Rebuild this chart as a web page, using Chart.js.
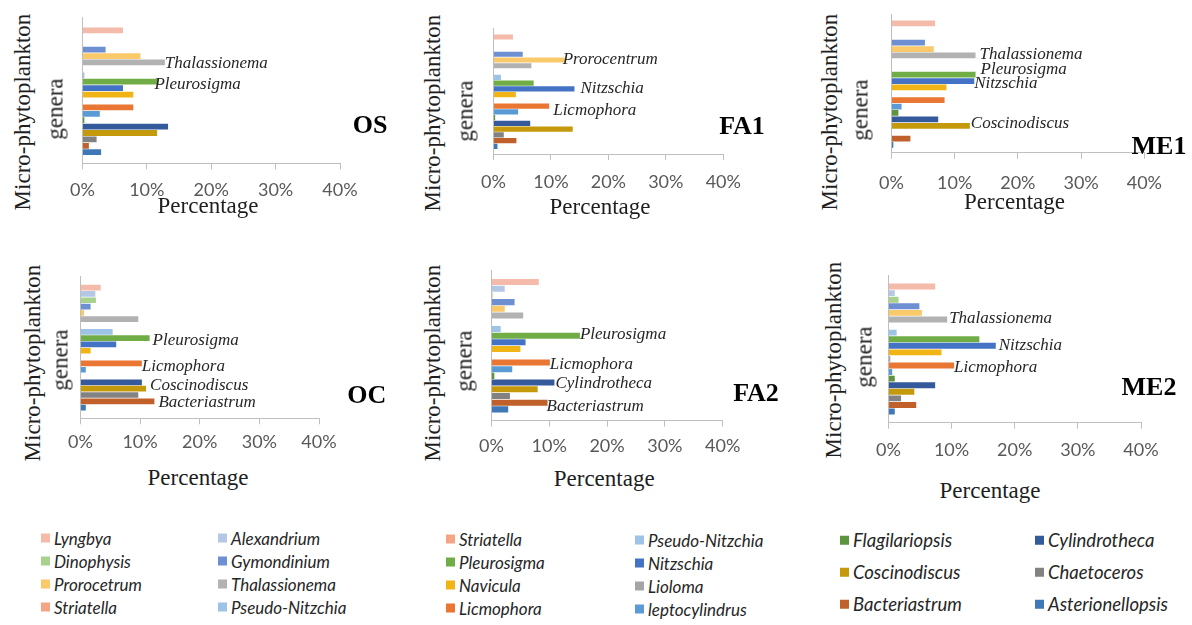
<!DOCTYPE html>
<html>
<head>
<meta charset="utf-8">
<script src="https://cdn.jsdelivr.net/npm/chart.js@4.4.1/dist/chart.umd.min.js"></script>
<style>
  html, body { margin: 0; padding: 0; background: #fff; }
  #stage { position: relative; width: 1192px; height: 625px; overflow: hidden; background: #fff; }
  #stage canvas { position: absolute; }
  .abs { position: absolute; white-space: nowrap; line-height: 1; }
  .ytitle { font-family: "Liberation Serif", serif; font-size: 23px; color: #1e1e1e; transform: translate(-50%, -50%) rotate(-90deg); }
  .xtitle { font-family: "Liberation Serif", serif; font-size: 23px; color: #1e1e1e; transform: translate(-50%, -50%); }
  .site { font-family: "Liberation Serif", serif; font-weight: bold; font-size: 26px; color: #000; transform: translate(-50%, -50%); }
  .leg { font-family: Lato, sans-serif; font-style: italic; font-size: 17px; color: #262626; transform: translateY(-50%); display: flex; align-items: center; }
  .leg.big { font-size: 18.5px; }
  .leg i { display: inline-block; width: 9px; height: 9px; margin-right: 4px; }
</style>
</head>
<body>
<div id="stage"></div>
<script>
// Genera, listed top to bottom in every panel
const categories = [
  'Lyngbya', 'Alexandrium', 'Dinophysis', 'Gymondinium', 'Prorocetrum',
  'Thalassionema', 'Striatella', 'Pseudo-Nitzchia', 'Pleurosigma', 'Nitzschia',
  'Navicula', 'Lioloma', 'Licmophora', 'leptocylindrus', 'Flagilariopsis',
  'Cylindrotheca', 'Coscinodiscus', 'Chaetoceros', 'Bacteriastrum', 'Asterionellopsis'
];

// Percentage of each genus per station
const OS  = [6.3, 0, 0, 3.6, 9.0, 12.8, 0, 0.3, 11.8, 6.3, 7.9, 0, 7.9, 2.7, 0.3, 13.3, 11.6, 2.2, 1.0, 2.9];
const FA1 = [3.4, 0, 0, 5.1, 12.4, 6.6, 0, 1.3, 7.0, 14.1, 3.9, 0, 9.7, 4.3, 0.3, 6.4, 13.8, 1.8, 4.0, 0.7];
const ME1 = [6.9, 0, 0, 5.3, 6.7, 13.3, 0, 0, 13.3, 13.1, 8.7, 0, 8.4, 1.6, 1.1, 7.4, 12.4, 0, 3.0, 0.3];
const OC  = [3.4, 2.5, 2.6, 1.7, 0.6, 9.7, 0, 5.4, 11.6, 6.0, 1.7, 0, 10.3, 0.9, 0, 10.3, 11.0, 9.7, 12.4, 0.9];
const FA2 = [8.2, 2.3, 0.2, 4.0, 2.3, 5.5, 0, 1.6, 15.3, 5.9, 5.0, 0, 10.1, 3.6, 0.5, 10.9, 8.0, 3.2, 9.7, 2.9];
const ME2 = [7.4, 1.0, 1.6, 4.9, 5.3, 9.3, 0, 1.3, 14.4, 17.0, 8.4, 0.3, 10.4, 0.6, 1.0, 7.4, 4.1, 2.0, 4.4, 1.0];

// Percentage axis ticks
const xTicks = [0, 10, 20, 30, 40];

// Bar colour of each genus (same order as categories)
const genusColors = [
  '#F4BBAA', '#B4C7E7', '#A9D18E', '#6E8FD1', '#F9C96A',
  '#B2B2B2', '#F4A584', '#9DC3E6', '#70AD47', '#4472C4',
  '#F0B414', '#A5A5A5', '#E97632', '#5B9BD5', '#5E9340',
  '#345A9C', '#C49A0C', '#828282', '#C0602A', '#3E78B6'
];

// Dominant genera named beside their bars
const notesOS  = [['Thalassionema', 'Thalassionema'], ['Pleurosigma', 'Pleurosigma']];
const notesFA1 = [['Prorocetrum', 'Prorocentrum'], ['Nitzschia', 'Nitzschia'], ['Licmophora', 'Licmophora']];
const notesME1 = [['Thalassionema', 'Thalassionema'], ['Pleurosigma', 'Pleurosigma'], ['Nitzschia', 'Nitzschia'], ['Coscinodiscus', 'Coscinodiscus']];
const notesOC  = [['Pleurosigma', 'Pleurosigma'], ['Licmophora', 'Licmophora'], ['Coscinodiscus', 'Coscinodiscus'], ['Bacteriastrum', 'Bacteriastrum']];
const notesFA2 = [['Pleurosigma', 'Pleurosigma'], ['Licmophora', 'Licmophora'], ['Cylindrotheca', 'Cylindrotheca'], ['Bacteriastrum', 'Bacteriastrum']];
const notesME2 = [['Thalassionema', 'Thalassionema'], ['Nitzschia', 'Nitzschia'], ['Licmophora', 'Licmophora']];

// Label nudges (px) for the genus names, keyed by station then genus
const noteNudge = {
  OS:  { Thalassionema: [0, 1], Pleurosigma: [-4, 3] },
  FA1: { Prorocetrum: [-2, 0], Nitzschia: [6, 0], Licmophora: [4, 4] },
  ME1: { Thalassionema: [4, -1], Pleurosigma: [5, -5], Nitzschia: [0, 3], Coscinodiscus: [1, -2] },
  OC:  { Pleurosigma: [3, 2], Licmophora: [0, 3], Coscinodiscus: [4, -3], Bacteriastrum: [4, 1] },
  FA2: { Pleurosigma: [0, -1], Licmophora: [0, 2], Cylindrotheca: [1, 1], Bacteriastrum: [-1, 4] },
  ME2: { Thalassionema: [2, -1], Nitzschia: [3, 0], Licmophora: [0, 2] }
};

// Panel layout: plot box, category padding (in rows) and title positions
const panels = [
  { site: 'OS',  values: OS,  notes: notesOS,  L: 76.7,  R: 340,    T: 17.7,  B: 163.3, padTop: 1.42, padBot: 1.16, tickPad: 10,
    micro: [21.7, 111.7], genera: [55, 109],   pct: [208, 205],    label: [370, 125] },
  { site: 'FA1', values: FA1, notes: notesFA1, L: 486.7, R: 723.3,  T: 28.1,  B: 154,   padTop: 1.0,  padBot: 0.78, tickPad: 11,
    micro: [431.7, 113.3], genera: [465, 110.8], pct: [600, 205.7], label: [742, 126] },
  { site: 'ME1', values: ME1, notes: notesME1, L: 881,   R: 1145.3, T: 14,    B: 152.7, padTop: 0.94, padBot: 0.67, tickPad: 14,
    micro: [829.3, 111.7], genera: [860, 110], pct: [1014.5, 200.7], label: [1159, 145.8] },
  { site: 'OC',  values: OC,  notes: notesOC,  L: 77.3,  R: 319,    T: 276.5, B: 418.3, padTop: 1.2,  padBot: 1.13, tickPad: 7,
    micro: [31.7, 363.3], genera: [60, 360],  pct: [198, 476.7],   label: [366.7, 395] },
  { site: 'FA2', values: FA2, notes: notesFA2, L: 486.7, R: 722.7,  T: 270.9, B: 420.7, padTop: 1.1,  padBot: 1.13, tickPad: 9,
    micro: [431.7, 363.3], genera: [464, 360.8], pct: [604.2, 477.7], label: [756, 392.5] },
  { site: 'ME2', values: ME2, notes: notesME2, L: 881,   R: 1141,   T: 275,   B: 422.7, padTop: 1.2,  padBot: 1.14, tickPad: 11,
    micro: [832.7, 360], genera: [864, 356.7], pct: [990, 490],     label: [1149, 386.7] }
];

// Legend blocks: column anchor x, row centres y, genera shown
const legendCols = [
  { x: 41,   ys: [538, 561, 584, 607], names: ['Lyngbya', 'Dinophysis', 'Prorocetrum', 'Striatella'] },
  { x: 218,  ys: [538, 561, 584, 607], names: ['Alexandrium', 'Gymondinium', 'Thalassionema', 'Pseudo-Nitzchia'] },
  { x: 446,  ys: [539, 562, 585, 608], names: ['Striatella', 'Pleurosigma', 'Navicula', 'Licmophora'] },
  { x: 635,  ys: [540, 563, 586, 609], names: ['Pseudo-Nitzchia', 'Nitzschia', 'Lioloma', 'leptocylindrus'] },
  { x: 840,  ys: [540, 572, 604],      names: ['Flagilariopsis', 'Coscinodiscus', 'Bacteriastrum'], big: true },
  { x: 1035, ys: [540, 572, 604],      names: ['Cylindrotheca', 'Chaetoceros', 'Asterionellopsis'], big: true }
];

const stage = document.getElementById('stage');

function addText(cls, text, x, y) {
  const d = document.createElement('div');
  d.className = 'abs ' + cls;
  d.textContent = text;
  d.style.left = x + 'px';
  d.style.top = y + 'px';
  stage.appendChild(d);
  return d;
}

// Writes the dominant genus names at the end of their bars
const barNotes = {
  id: 'barNotes',
  afterDatasetsDraw(chart, args, opts) {
    const items = opts.items || [];
    const nudge = opts.nudge || {};
    const meta = chart.getDatasetMeta(0);
    const ctx = chart.ctx;
    ctx.save();
    ctx.font = 'italic 17px "Liberation Serif"';
    ctx.fillStyle = '#262626';
    ctx.textBaseline = 'middle';
    ctx.textAlign = 'left';
    items.forEach(([genus, text]) => {
      const el = meta.data[categories.indexOf(genus)];
      if (!el) return;
      const [dx, dy] = nudge[genus] || [2, 0];
      ctx.fillText(text, el.x + dx, el.y + dy);
    });
    ctx.restore();
  }
};

const AXIS_H = 44;
const AXIS_COLOR = '#BFBFBF';

panels.forEach(p => {
  const left = Math.floor(p.L) - 16;
  const top = Math.floor(p.T) - 4;
  const width = Math.ceil(p.R - left) + 30;
  const height = Math.ceil(p.B - top) + AXIS_H;

  const canvas = document.createElement('canvas');
  canvas.width = width;
  canvas.height = height;
  canvas.style.left = left + 'px';
  canvas.style.top = top + 'px';
  canvas.style.width = width + 'px';
  canvas.style.height = height + 'px';
  stage.appendChild(canvas);

  new Chart(canvas.getContext('2d'), {
    type: 'bar',
    data: {
      datasets: [{
        data: p.values.map((v, i) => ({ x: v, y: i })),
        backgroundColor: genusColors,
        borderWidth: 0,
        barPercentage: 1.0,
        categoryPercentage: 0.9
      }]
    },
    options: {
      indexAxis: 'y',
      responsive: false,
      animation: false,
      devicePixelRatio: 1,
      layout: {
        padding: {
          left: p.L - left,
          top: p.T - top,
          right: width - (p.R - left),
          bottom: height - AXIS_H - (p.B - top)
        }
      },
      plugins: {
        legend: { display: false },
        tooltip: { enabled: false },
        barNotes: { items: p.notes, nudge: noteNudge[p.site] }
      },
      scales: {
        x: {
          type: 'linear',
          min: xTicks[0],
          max: xTicks[xTicks.length - 1],
          afterBuildTicks: s => { s.ticks = xTicks.map(v => ({ value: v })); },
          ticks: {
            callback: v => v + '%',
            color: '#595959',
            font: { family: 'Lato', size: 18 },
            padding: p.tickPad,
            maxRotation: 0,
            autoSkip: false
          },
          grid: { display: true, drawOnChartArea: false, drawTicks: true, tickLength: 6, color: AXIS_COLOR, lineWidth: 1 },
          border: { display: true, color: AXIS_COLOR, width: 1 },
          afterFit: s => { s.height = AXIS_H; }
        },
        y: {
          type: 'linear',
          reverse: true,
          bounds: 'data',
          min: -p.padTop,
          max: categories.length - 1 + p.padBot,
          // one (hidden) tick per genus row, so every row gets a full-height slot
          afterBuildTicks: s => { s.ticks = categories.map((c, i) => ({ value: i })); },
          ticks: { display: false },
          grid: { display: false },
          border: { display: true, color: AXIS_COLOR, width: 1 },
          afterFit: s => { s.width = 0; }
        }
      }
    },
    plugins: [barNotes]
  });

  addText('ytitle', 'Micro-phytoplankton', p.micro[0], p.micro[1]);
  addText('ytitle', 'genera', p.genera[0], p.genera[1]);
  addText('xtitle', 'Percentage', p.pct[0], p.pct[1]);
  addText('site', p.site, p.label[0], p.label[1]);
});

// Legend
legendCols.forEach(col => {
  col.names.forEach((name, r) => {
    const d = document.createElement('div');
    d.className = 'abs leg' + (col.big ? ' big' : '');
    d.style.left = col.x + 'px';
    d.style.top = col.ys[r] + 'px';
    const sw = document.createElement('i');
    sw.style.background = genusColors[categories.indexOf(name)];
    d.appendChild(sw);
    d.appendChild(document.createTextNode(name));
    stage.appendChild(d);
  });
});
</script>
</body>
</html>
